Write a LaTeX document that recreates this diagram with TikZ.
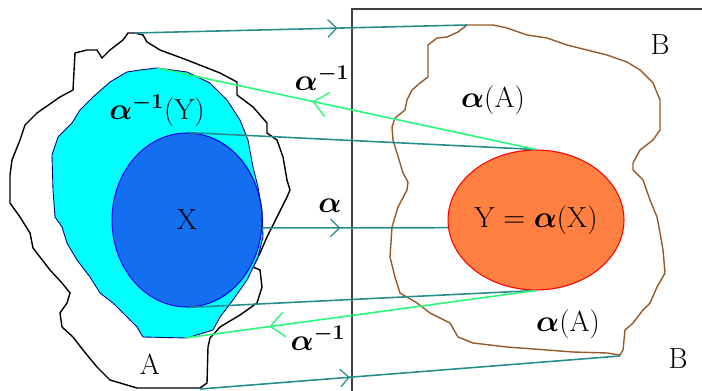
\documentclass[tikz,border=0pt]{standalone}
\usepackage{amsmath}
\usepackage{bm}
\usetikzlibrary{arrows.meta, shapes.geometric, decorations.markings}
\definecolor{mapline}{RGB}{40,140,140}
\definecolor{invline}{RGB}{40,250,120}
\definecolor{preimg}{RGB}{0,255,255}
\definecolor{setx}{RGB}{20,110,240}
\definecolor{sety}{RGB}{255,128,64}
\definecolor{imgline}{RGB}{150,90,40}
\newcommand{\lblsize}{\fontsize{16.5}{20}\selectfont}

\begin{document}
\begin{tikzpicture}[x=0.02cm, y=-0.02cm,
  lbl/.style={font=\lblsize, inner sep=1pt},
  fwd/.style={draw=mapline, line width=0.9pt},
  bwd/.style={draw=invline, line width=0.9pt},
  midarr/.style={postaction={decorate}, decoration={markings,
      mark=at position #1 with {\arrow{Straight Barb[length=5pt, width=10pt, line width=0.7pt]}}}},
  midarrbig/.style={postaction={decorate}, decoration={markings,
      mark=at position #1 with {\arrow{Straight Barb[length=8pt, width=14pt, line width=0.8pt]}}}}
]
  \useasboundingbox (0,0) rectangle (702,391);
  \draw[black!75, line width=0.9pt] (352,391) -- (352,9) -- (710,9);

  % set A
  \draw[black, line width=0.8pt] (128,33) -- (135,33) -- (143,35) -- (147,42) -- (160,50) -- (187,60)
    -- (220,73) -- (237,82) -- (237,95) -- (253,107) -- (267,123) -- (267,133) -- (277,140)
    -- (283,157) -- (287,180) -- (290,190) -- (287,197) -- (277,217) -- (267,237) -- (260,253)
    -- (253,267) -- (260,270) -- (262,287) -- (257,303) -- (240,315) -- (220,327) -- (210,338)
    -- (208,347) -- (207,383) -- (200,388) -- (137,388) -- (110,380) -- (97,367) -- (83,350)
    -- (73,337) -- (62,327) -- (60,313) -- (67,303) -- (70,293) -- (62,283) -- (50,270)
    -- (33,248) -- (30,233) -- (20,217) -- (10,203) -- (10,175) -- (12,160) -- (20,140)
    -- (25,125) -- (37,113) -- (60,97) -- (73,90) -- (75,53) -- (87,50) -- (97,50) -- (102,58)
    -- (110,50) -- (123,40) -- cycle;
  \coordinate (apeak) at (135,33);
  \coordinate (afoot) at (200,389);

  % preimage of Y
  \filldraw[fill=preimg, draw=blue!50!black, line width=0.5pt] (157,68) -- (187,72) -- (210,83)
    -- (227,100) -- (240,120) -- (248,140) -- (253,167) -- (258,187) -- (262,210) -- (263,237)
    -- (258,257) -- (247,280) -- (233,300) -- (220,317) -- (213,330) -- (187,338) -- (143,337)
    -- (137,327) -- (127,317) -- (113,303) -- (100,293) -- (90,277) -- (77,260) -- (67,243)
    -- (62,227) -- (55,217) -- (53,190) -- (52,155) -- (58,137) -- (72,123) -- (80,110)
    -- (93,97) -- (110,82) -- (127,72) -- (140,70) -- cycle;
  \coordinate (cytop) at (157,68);
  \coordinate (cybot) at (185,338);

  \node[ellipse, fill=setx, draw=blue, line width=0.6pt, minimum width=3cm,
        minimum height=3.48cm, inner sep=0pt, font=\lblsize] (X) at (187,220) {X};

  % image of A
  \draw[imgline, line width=0.8pt] (467,25) -- (493,25) -- (507,28) -- (527,35) -- (547,38)
    -- (567,45) -- (587,50) -- (607,55) -- (627,62) -- (640,70) -- (653,83) -- (660,100)
    -- (660,130) -- (653,140) -- (640,150) -- (633,163) -- (633,170) -- (643,180) -- (650,200)
    -- (657,217) -- (660,233) -- (663,250) -- (665,273) -- (657,287) -- (650,303) -- (643,310)
    -- (633,323) -- (625,330) -- (623,350) -- (620,355) -- (607,353) -- (573,352) -- (547,350)
    -- (507,347) -- (473,343) -- (458,337) -- (450,323) -- (430,313) -- (417,303) -- (400,293)
    -- (395,277) -- (390,257) -- (392,227) -- (398,207) -- (407,190) -- (408,182) -- (403,173)
    -- (397,153) -- (393,140) -- (392,127) -- (395,118) -- (405,110) -- (407,100) -- (412,90)
    -- (420,83) -- (428,77) -- (428,45) -- (437,38) -- (447,37) -- (458,32) -- cycle;
  \coordinate (bpeak) at (467,25);
  \coordinate (bcorner) at (620,356);

  \node[ellipse, fill=sety, draw=red, line width=0.6pt, minimum width=3.52cm,
        minimum height=2.8cm, inner sep=0pt, font=\lblsize] (Y) at (536,220)
        {Y $=$ $\bm{\alpha}$(X)};

  \draw[fwd, midarr=0.61] (apeak) -- (bpeak);
  \draw[fwd] (X.north) -- (Y.north);
  \draw[fwd, midarr=0.42] (X.-6) -- (Y.185);
  \draw[fwd] (X.south) -- (Y.south);
  \draw[fwd, midarr=0.357] (afoot) -- (bcorner);
  \draw[bwd, midarrbig=0.59] (Y.north) -- (cytop);
  \draw[bwd, midarrbig=0.76] (Y.south) -- (cybot);

  \node[lbl] (lpre)  at (157,111) {$\bm{\alpha^{-1}}$(Y)};
  \node[lbl] (linvt) at (322,78)  {$\bm{\alpha^{-1}}$};
  \node[lbl] (lfwd)  at (330,206) {$\bm{\alpha}$};
  \node[lbl] (linvb) at (318,338) {$\bm{\alpha^{-1}}$};
  \node[lbl] (la)    at (150,364) {A};
  \node[lbl] (limgt) at (493,100) {$\bm{\alpha}$(A)};
  \node[lbl] (limgb) at (568,324) {$\bm{\alpha}$(A)};
  \node[lbl] (lbt)   at (660,45)  {B};
  \node[lbl] (lbb)   at (678,359) {B};
\end{tikzpicture}
\end{document}
